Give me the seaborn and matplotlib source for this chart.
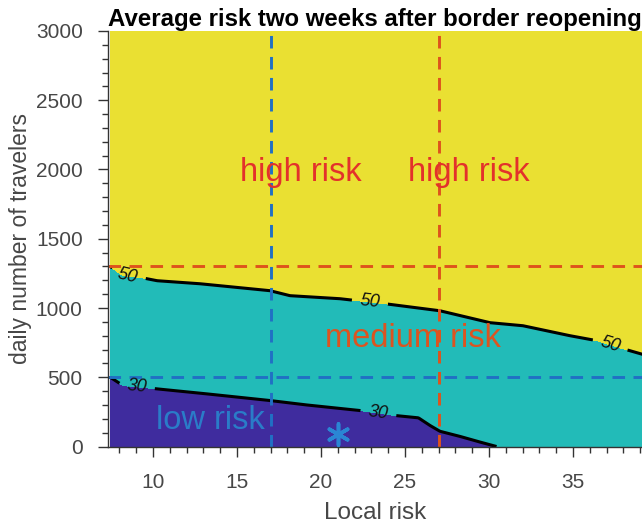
import numpy as np
import pandas as pd
import matplotlib
matplotlib.use("Agg")
import matplotlib.pyplot as plt
import seaborn as sns

# ---- data ----
# contour "30" boundary (local risk -> daily travelers)
x30 = [7.45, 8.21, 9.92, 13.2, 16.96, 19.15, 22.3, 24.4, 25.8, 26.5, 27.08, 28.3, 29.5, 30.45, 35.0, 39.3]
y30 = [500, 440, 420, 380, 332, 300, 260, 224, 207, 151, 110, 72, 31, 0, -150, -290]
# contour "50" boundary
x50 = [7.45, 8.21, 9.35, 10.24, 12.8, 16.96, 18.15, 21.13, 22.14, 23.8, 27.08, 30.06, 32.02, 34.82, 36.43, 37.98, 39.3]
y50 = [1300, 1233, 1218, 1197, 1175, 1125, 1089, 1067, 1053, 1031, 980, 894, 872, 800, 764, 706, 660]
levels = [30, 50]
# threshold lines
local_thresholds = [17, 27]
traveler_thresholds = [500, 1300]
# annotations
region_labels = ["high risk", "high risk", "medium risk", "low risk"]
region_x = [18.8, 28.78, 25.48, 13.4]
region_y = [1975, 1975, 779, 187]
star_x = [21.0]
star_y = [90]
clabel_pos = [(8.5, 1233), (22.9, 1033), (37.2, 728), (9.03, 428), (23.4, 228)]

# ---- build field ----
gx = np.linspace(7.45, 39.3, 500)
gy = np.linspace(0, 3000, 901)
X, Y = np.meshgrid(gx, gy)
b30 = np.interp(X, x30, y30)
b50 = np.interp(X, x50, y50)
Z = 30 + 20 * (Y - b30) / (b50 - b30)

sns.set_style("ticks")
plt.rcParams["font.family"] = ["Liberation Sans", "DejaVu Sans"]

fig = plt.figure(figsize=(6.42, 5.25), dpi=100)
ax = fig.add_axes([0.1678, 0.1495, 1.0 - 0.1678, 0.941 - 0.1495])

c_low, c_mid, c_high = "#3F2C9E", "#22BBB8", "#EAE032"
ax.contourf(X, Y, Z, levels=[Z.min() - 1, 30, 50, Z.max() + 1],
            colors=[c_low, c_mid, c_high])
cs = ax.contour(X, Y, Z, levels=levels, colors="black", linewidths=2.2)
txts = ax.clabel(cs, fmt="%d", fontsize=13, manual=clabel_pos, inline=True, inline_spacing=8)
for t in txts:
    t.set_fontstyle("italic")
    t.set_color("#111111")

blue = "#2070C4"
orange = "#DE531C"
dash = (4.3, 2.9)
ax.axvline(local_thresholds[0], color=blue, lw=2.1, dashes=dash)
ax.axvline(local_thresholds[1], color=orange, lw=2.1, dashes=dash)
ax.axhline(traveler_thresholds[0], color=blue, lw=2.1, dashes=dash)
ax.axhline(traveler_thresholds[1], color=orange, lw=2.1, dashes=dash)

text_colors = ["#E3312B", "#E3312B", "#DC5420", "#2A7CC8"]
for lab, tx, ty, col in zip(region_labels, region_x, region_y, text_colors):
    ax.text(tx, ty, lab, color=col, fontsize=23.5, ha="center", va="center")

sns.scatterplot(x=star_x, y=star_y, ax=ax, marker=(6, 2, 0), s=230,
                color="#2A86D4", linewidth=2.6, edgecolor="#2A86D4", zorder=5)

ax.set_xlim(7.3, 39.11)
ax.set_ylim(0, 3000)
ax.set_xticks([10, 15, 20, 25, 30, 35])
ax.set_yticks([0, 500, 1000, 1500, 2000, 2500, 3000])
ax.set_xticks(np.arange(8, 40, 1), minor=True)
ax.set_yticks(np.arange(0, 3001, 100), minor=True)
ax.tick_params(which="major", direction="out", length=7, width=1, color="#333333",
               labelsize=15, labelcolor="#474747")
ax.tick_params(axis="x", which="major", pad=12)
ax.tick_params(axis="y", which="major", pad=11)
ax.tick_params(which="minor", direction="out", length=4.5, width=1, color="#333333")
for s in ["top", "right"]:
    ax.spines[s].set_visible(False)
for s in ["left", "bottom"]:
    ax.spines[s].set_color("#333333")
    ax.spines[s].set_linewidth(1)

ax.set_xlabel("Local risk", fontsize=17.5, color="#474747", labelpad=7)
ax.set_ylabel("daily number of travelers", fontsize=16.5, color="#474747", labelpad=3)
ax.set_title("Average risk two weeks after border reopening", fontsize=17.3, fontweight="bold",
             color="black", pad=3, x=0.5)

fig.savefig("out.png", dpi=100)
